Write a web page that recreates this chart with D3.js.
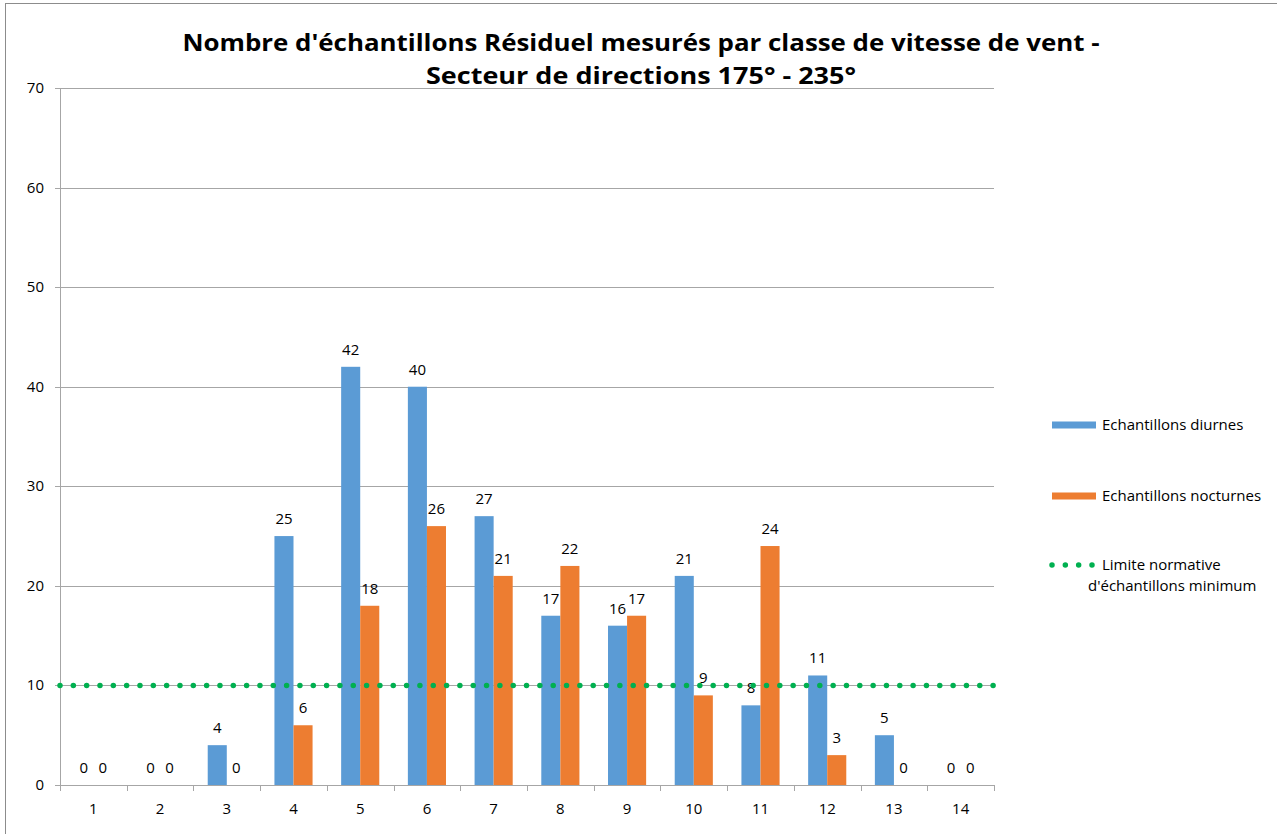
<!DOCTYPE html>
<html>
<head>
<meta charset="utf-8">
<script src="https://cdn.jsdelivr.net/npm/d3@7"></script>
<style>
  body { margin: 0; background: #fff; }
  text { font-family: "Open Sans", "Liberation Sans", sans-serif; fill: #000; }
</style>
</head>
<body>
<script>
// chart data
const classes = ["1", "2", "3", "4", "5", "6", "7", "8", "9", "10", "11", "12", "13", "14"];
const diurnes = [0, 0, 4, 25, 42, 40, 27, 17, 16, 21, 8, 11, 5, 0];
const nocturnes = [0, 0, 0, 6, 18, 26, 21, 22, 17, 9, 24, 3, 0, 0];
const limite = 10;
const y_ticks = [0, 10, 20, 30, 40, 50, 60, 70];
const series_names = ["Echantillons diurnes", "Echantillons nocturnes"];
const title_lines = ["Nombre d'échantillons Résiduel mesurés par classe de vitesse de vent -",
                     "Secteur de directions 175° - 235°"];

const width = 1277, height = 834;
const plot = { left: 60, right: 994, top: 88, bottom: 785 };
const colors = ["#5B9BD5", "#ED7D31"];
const green = "#00B050";

const svg = d3.select("body").append("svg")
    .attr("width", width)
    .attr("height", height);

// outer frame
svg.append("rect")
    .attr("x", 5.5).attr("y", 3.5)
    .attr("width", width + 10).attr("height", height + 10)
    .attr("fill", "none").attr("stroke", "#8c8c8c");

const x = d3.scaleBand()
    .domain(classes)
    .range([plot.left, plot.right]);

const x1 = d3.scaleBand()
    .domain([0, 1])
    .range([0, x.bandwidth()])
    .paddingOuter(0.75)
    .paddingInner(0);

const y = d3.scaleLinear()
    .domain([0, 70])
    .range([plot.bottom, plot.top]);

// gridlines
svg.append("g")
    .selectAll("line")
    .data(y_ticks.slice(1))
    .enter().append("line")
    .attr("x1", plot.left).attr("x2", plot.right)
    .attr("y1", d => Math.round(y(d)) + 0.5)
    .attr("y2", d => Math.round(y(d)) + 0.5)
    .attr("stroke", "#a6a6a6");

// y axis
svg.append("line")
    .attr("x1", plot.left + 0.5).attr("x2", plot.left + 0.5)
    .attr("y1", plot.top).attr("y2", plot.bottom)
    .attr("stroke", "#a6a6a6");

svg.append("g")
    .selectAll("line")
    .data(y_ticks)
    .enter().append("line")
    .attr("x1", plot.left - 5).attr("x2", plot.left)
    .attr("y1", d => Math.round(y(d)) + 0.5)
    .attr("y2", d => Math.round(y(d)) + 0.5)
    .attr("stroke", "#a6a6a6");

svg.append("g")
    .selectAll("text")
    .data(y_ticks)
    .enter().append("text")
    .attr("x", 44)
    .attr("y", d => y(d) + 5)
    .attr("text-anchor", "end")
    .style("font-size", "15px")
    .text(d => d);

// bars
const groups = svg.append("g")
    .selectAll("g")
    .data(classes)
    .enter().append("g")
    .attr("transform", d => `translate(${x(d)},0)`);

[diurnes, nocturnes].forEach((vals, s) => {
    groups.append("rect")
        .attr("x", x1(s))
        .attr("width", x1.bandwidth())
        .attr("y", (d, i) => y(vals[i]))
        .attr("height", (d, i) => y(0) - y(vals[i]))
        .attr("fill", colors[s]);

    groups.append("text")
        .attr("x", x1(s) + x1.bandwidth() / 2)
        .attr("y", (d, i) => y(vals[i]) - 12)
        .attr("text-anchor", "middle")
        .style("font-size", "15px")
        .text((d, i) => vals[i]);
});

// x axis
svg.append("line")
    .attr("x1", plot.left).attr("x2", plot.right)
    .attr("y1", plot.bottom + 0.5).attr("y2", plot.bottom + 0.5)
    .attr("stroke", "#a6a6a6");

svg.append("g")
    .selectAll("line")
    .data(classes.concat(["end"]))
    .enter().append("line")
    .attr("x1", (d, i) => Math.round(plot.left + i * x.bandwidth()) + 0.5)
    .attr("x2", (d, i) => Math.round(plot.left + i * x.bandwidth()) + 0.5)
    .attr("y1", plot.bottom)
    .attr("y2", plot.bottom + 6)
    .attr("stroke", "#a6a6a6");

svg.append("g")
    .selectAll("text")
    .data(classes)
    .enter().append("text")
    .attr("x", d => x(d) + x.bandwidth() / 2)
    .attr("y", plot.bottom + 29)
    .attr("text-anchor", "middle")
    .style("font-size", "15px")
    .text(d => d);

// limite normative
svg.append("line")
    .attr("x1", plot.left).attr("x2", plot.right)
    .attr("y1", y(limite)).attr("y2", y(limite))
    .attr("stroke", green)
    .attr("stroke-width", 5.5)
    .attr("stroke-linecap", "round")
    .attr("stroke-dasharray", "0 13.33");

// title
const title_widths = [917, 430];
svg.append("g")
    .selectAll("text")
    .data(title_lines)
    .enter().append("text")
    .attr("x", 641)
    .attr("y", (d, i) => 51 + i * 33)
    .attr("text-anchor", "middle")
    .attr("textLength", (d, i) => title_widths[i])
    .attr("lengthAdjust", "spacingAndGlyphs")
    .style("font-weight", "bold")
    .style("font-size", "24px")
    .text(d => d);

// legend
const legend = svg.append("g");
series_names.forEach((name, i) => {
    const ly = 425 + i * 71;
    legend.append("rect")
        .attr("x", 1052).attr("y", ly - 3.5)
        .attr("width", 44).attr("height", 7)
        .attr("fill", colors[i]);
    legend.append("text")
        .attr("x", 1102).attr("y", ly + 5)
        .style("font-size", "15px")
        .text(name);
});

legend.append("line")
    .attr("x1", 1052).attr("x2", 1093)
    .attr("y1", 565).attr("y2", 565)
    .attr("stroke", green)
    .attr("stroke-width", 5.5)
    .attr("stroke-linecap", "round")
    .attr("stroke-dasharray", "0 13.33");

legend.append("text")
    .attr("x", 1102).attr("y", 570)
    .style("font-size", "15px")
    .text("Limite normative");
legend.append("text")
    .attr("x", 1088).attr("y", 591)
    .style("font-size", "15px")
    .text("d'échantillons minimum");
</script>
</body>
</html>
